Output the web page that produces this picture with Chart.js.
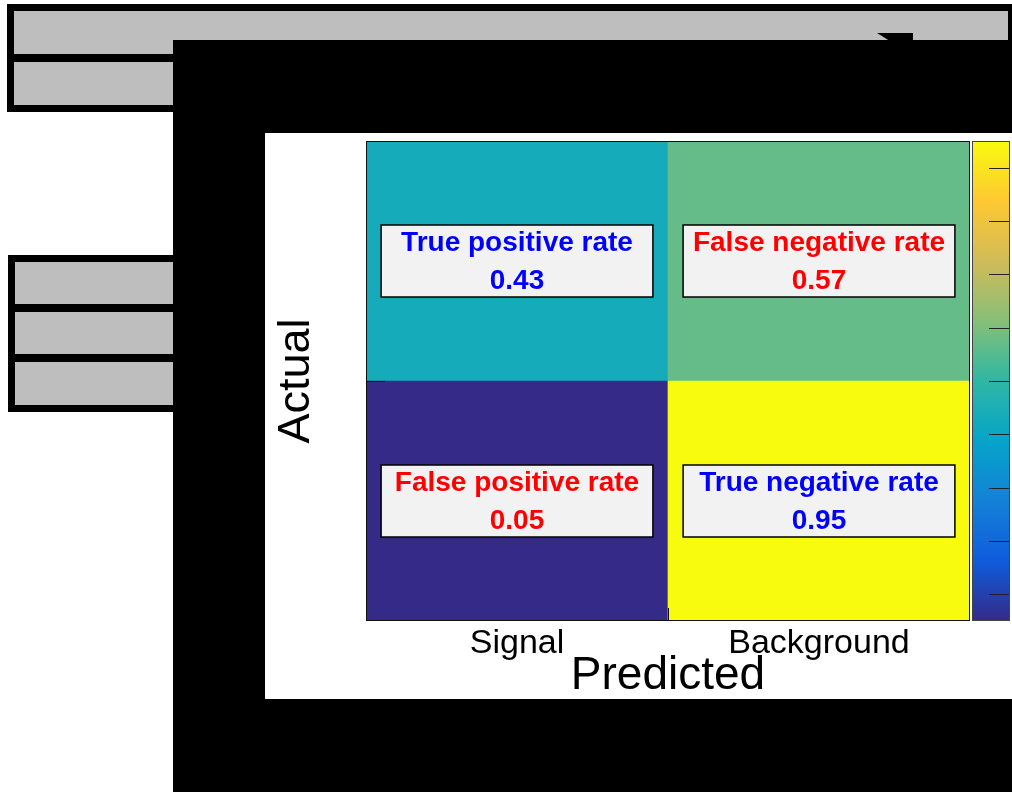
<!DOCTYPE html>
<html>
<head>
<meta charset="utf-8">
<script src="https://cdn.jsdelivr.net/npm/chart.js@4.4.1/dist/chart.umd.min.js"></script>
<style>
  html, body { margin: 0; padding: 0; background: #fff; width: 1012px; height: 792px; overflow: hidden; }
  .box { position: absolute; background: #bebebe; border: 7px solid #000; box-sizing: border-box; }
  .sep { position: absolute; left: 0; right: 0; height: 8px; background: #000; }
  #backdrop { position: absolute; left: 173px; top: 40px; width: 850px; height: 760px; background: #000; }
  #notch { position: absolute; left: 877px; top: 33px; width: 36px; height: 9px; background: #000;
           clip-path: polygon(0 0, 100% 0, 100% 100%, 40% 100%); }
  #panel { position: absolute; left: 265px; top: 133px; width: 747px; height: 566px; background: #fff; }
  canvas { display: block; }
</style>
</head>
<body>
<div class="box" style="left:7px;top:4px;width:1008px;height:108px"><div class="sep" style="top:43px"></div></div>
<div class="box" style="left:8px;top:255px;width:200px;height:157px">
  <div class="sep" style="top:42px"></div>
  <div class="sep" style="top:92px"></div>
</div>
<div id="notch"></div>
<div id="backdrop"></div>
<div id="panel"><canvas id="cm" width="747" height="566"></canvas></div>

<script>
// confusion matrix values (rows = actual class, columns = predicted class)
const predicted = ['Signal', 'Background'];
const signalRow = [0.43, 0.57];        // actual signal
const backgroundRow = [0.05, 0.95];    // actual background
const signalNames = ['True positive rate', 'False negative rate'];
const backgroundNames = ['False positive rate', 'True negative rate'];
const zMin = 0.05, zMax = 0.95;
const zTicks = [0.1, 0.2, 0.3, 0.4, 0.5, 0.6, 0.7, 0.8, 0.9];

const FONT = "'Liberation Sans', Arial, Helvetica, sans-serif";

// ROOT kBird palette
const birdStops = [0, 0.125, 0.25, 0.375, 0.5, 0.625, 0.75, 0.875, 1];
const birdR = [0.2082, 0.0592, 0.0780, 0.0232, 0.1802, 0.5301, 0.8186, 0.9956, 0.9764];
const birdG = [0.1664, 0.3599, 0.5041, 0.6419, 0.7178, 0.7492, 0.7328, 0.7862, 0.9832];
const birdB = [0.5293, 0.8684, 0.8385, 0.7914, 0.6425, 0.4662, 0.3499, 0.1968, 0.0539];

function bird(t) {
    t = Math.min(1, Math.max(0, t));
    let i = 0;
    while (i < birdStops.length - 2 && t > birdStops[i + 1]) i++;
    const f = (t - birdStops[i]) / (birdStops[i + 1] - birdStops[i]);
    const c = (arr) => Math.round(255 * (arr[i] + f * (arr[i + 1] - arr[i])));
    return `rgb(${c(birdR)},${c(birdG)},${c(birdB)})`;
}
const cellColor = (v) => bird((v - zMin) / (zMax - zMin));

const rootDecor = {
    id: 'rootDecor',
    afterDatasetsDraw(chart) {
        const ctx = chart.ctx;
        const a = chart.chartArea;
        const xs = chart.scales.x, ys = chart.scales.y, zs = chart.scales.z;
        ctx.save();

        // frame + inward ticks like ROOT
        ctx.strokeStyle = '#111';
        ctx.lineWidth = 1;
        ctx.strokeRect(a.left + 0.5, a.top + 0.5, a.right - a.left - 1, a.bottom - a.top - 1);
        ctx.beginPath();
        for (let v = 1; v <= chart.data.datasets.length; v++) {
            const py = Math.round(ys.getPixelForValue(v)) + 0.5;
            ctx.moveTo(a.left, py);
            ctx.lineTo(a.left + 19, py);
        }
        for (let i = 0; i < predicted.length - 1; i++) {
            const px = Math.round((xs.getPixelForValue(i) + xs.getPixelForValue(i + 1)) / 2) + 0.5;
            ctx.moveTo(px, a.bottom);
            ctx.lineTo(px, a.bottom - 13);
        }
        ctx.stroke();

        // text boxes in each cell
        chart.data.datasets.forEach((ds, di) => {
            chart.getDatasetMeta(di).data.forEach((bar, i) => {
                const w = bar.width;
                const h = Math.abs(bar.base - bar.y);
                const cy = (bar.y + bar.base) / 2;
                const bx = bar.x - 0.45 * w, by = cy - 0.15 * h;
                ctx.fillStyle = '#f2f2f2';
                ctx.fillRect(bx, by, 0.9 * w, 0.3 * h);
                ctx.strokeStyle = '#000';
                ctx.lineWidth = 1.5;
                ctx.strokeRect(bx, by, 0.9 * w, 0.3 * h);
                const name = ds.names[i];
                ctx.fillStyle = name.startsWith('True') ? '#0000ff' : '#ff0000';
                ctx.font = `bold 28px ${FONT}`;
                ctx.textAlign = 'center';
                ctx.textBaseline = 'alphabetic';
                ctx.fillText(name, bar.x, cy - 10);
                ctx.fillText(ds.rates[i].toFixed(2), bar.x, cy + 28);
            });
        });

        // colour bar
        const cx0 = zs.left + 3, cx1 = zs.left + 39;
        const top = zs.getPixelForValue(zMax), bot = zs.getPixelForValue(zMin);
        const grad = ctx.createLinearGradient(0, bot, 0, top);
        birdStops.forEach((s) => grad.addColorStop(s, bird(s)));
        ctx.fillStyle = grad;
        ctx.fillRect(cx0, top, cx1 - cx0, bot - top);
        ctx.strokeStyle = '#222';
        ctx.lineWidth = 1;
        ctx.beginPath();
        zTicks.forEach((v) => {
            const py = Math.round(zs.getPixelForValue(v)) + 0.5;
            ctx.moveTo(cx1, py);
            ctx.lineTo(cx1 - 20, py);
        });
        ctx.stroke();
        ctx.strokeStyle = '#444';
        ctx.strokeRect(cx0 - 0.5, top + 0.5, cx1 - cx0 + 1, bot - top - 1);
        ctx.restore();
    }
};

new Chart(document.getElementById('cm').getContext('2d'), {
    type: 'bar',
    data: {
        labels: predicted,
        datasets: [
            {
                label: 'Background',
                data: predicted.map(() => 1),
                rates: backgroundRow,
                names: backgroundNames,
                backgroundColor: backgroundRow.map(cellColor),
                yAxisID: 'y'
            },
            {
                label: 'Signal',
                data: predicted.map(() => 1),
                rates: signalRow,
                names: signalNames,
                backgroundColor: signalRow.map(cellColor),
                yAxisID: 'y'
            }
        ]
    },
    options: {
        responsive: false,
        animation: false,
        layout: { padding: { top: 8, left: 0, right: 0, bottom: 0 } },
        datasets: { bar: { barPercentage: 1, categoryPercentage: 1, borderWidth: 0 } },
        plugins: { legend: { display: false }, tooltip: { enabled: false } },
        scales: {
            x: {
                stacked: true,
                grid: { display: false, drawTicks: false },
                border: { display: false },
                ticks: { color: '#000', padding: 2, maxRotation: 0, font: { family: FONT, size: 34 } },
                title: {
                    display: true, text: 'Predicted', color: '#000',
                    font: { family: FONT, size: 46, lineHeight: 1 }, padding: { top: 0, bottom: 0 }
                },
                afterFit: (s) => { s.height = 78; }
            },
            y: {
                stacked: true,
                min: 0,
                max: 2,
                grid: { display: false },
                border: { display: false },
                ticks: { display: false, stepSize: 1 },
                title: {
                    display: true, text: 'Actual', color: '#000',
                    font: { family: FONT, size: 45, lineHeight: 1 }, padding: { top: 9, bottom: 0 }
                },
                afterFit: (s) => { s.width = 101; }
            },
            z: {
                type: 'linear',
                position: 'right',
                min: zMin,
                max: zMax,
                grid: { display: false },
                border: { display: false },
                ticks: { display: false },
                afterFit: (s) => { s.width = 42; }
            }
        }
    },
    plugins: [rootDecor]
});
</script>
</body>
</html>
